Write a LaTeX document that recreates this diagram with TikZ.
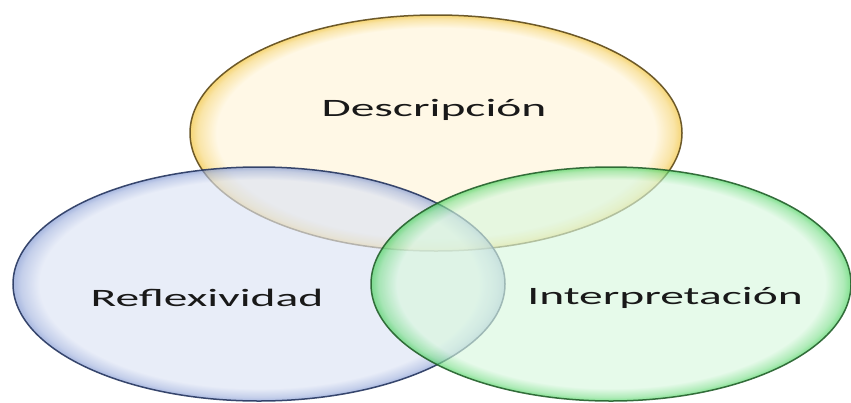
\documentclass[tikz,border=0pt]{standalone}
\usepackage{fontspec}
\setmainfont{Carlito}

\definecolor{ycore}{HTML}{FFF4D8}
\definecolor{yrim}{HTML}{F0BE2A}
\definecolor{yline}{HTML}{5E4A1A}
\definecolor{bcore}{HTML}{DCE3F4}
\definecolor{brim}{HTML}{7890CE}
\definecolor{bline}{HTML}{26365F}
\definecolor{gcore}{HTML}{D8F7DE}
\definecolor{grim}{HTML}{3FCF54}
\definecolor{gline}{HTML}{24602C}

% rim shadings, the path box is mapped onto the inner 50bp square
\pgfdeclareradialshading{yglass}{\pgfpoint{0bp}{0bp}}{color(0bp)=(ycore); color(22.3bp)=(ycore); color(24.2bp)=(yrim!55!ycore); color(25bp)=(yrim); color(50bp)=(yrim)}
\pgfdeclareradialshading{bglass}{\pgfpoint{0bp}{0bp}}{color(0bp)=(bcore); color(22.3bp)=(bcore); color(24.2bp)=(brim!55!bcore); color(25bp)=(brim); color(50bp)=(brim)}
\pgfdeclareradialshading{gglass}{\pgfpoint{0bp}{0bp}}{color(0bp)=(gcore); color(22.3bp)=(gcore); color(24.2bp)=(grim!55!gcore); color(25bp)=(grim); color(50bp)=(grim)}

\begin{document}
\begin{tikzpicture}[x=1pt,y=-1pt,
	bubble/.style={line width=1.5pt, fill opacity=0.65, draw opacity=0.9},
	venntext/.style={font=\fontsize{25}{30}\selectfont, text=black!90, xscale=1.9}]
	\useasboundingbox (0,0) rectangle (851,402);
	
	% the three sets
	\shade[bubble, shading=yglass, draw=yline] (436,133) ellipse [x radius=246, y radius=118];
	\shade[bubble, shading=bglass, draw=bline] (259,284) ellipse [x radius=246, y radius=117];
	\shade[bubble, shading=gglass, draw=gline] (611,284) ellipse [x radius=240, y radius=117];
	
	\node[venntext] (desc)   at (434,110) {Descripción};
	\node[venntext] (refl)   at (207,298) {Reflexividad};
	\node[venntext] (interp) at (665,298) {Interpretación};
\end{tikzpicture}
\end{document}
